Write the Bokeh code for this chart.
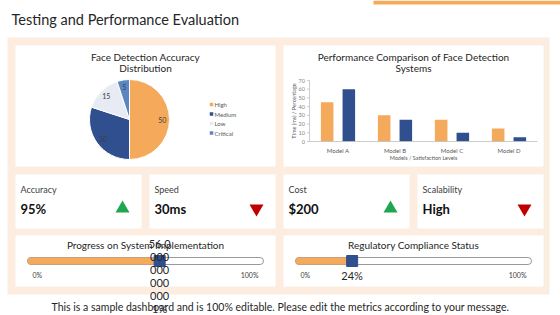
import math
import numpy as np
from bokeh.plotting import figure
from bokeh.models import Range1d, ColumnDataSource
from bokeh.transform import dodge
from bokeh.core.properties import value
from bokeh.embed import file_html
from bokeh.resources import INLINE

# ---------------- data ----------------
page_title = "Testing and Performance Evaluation"

pie_title = ["Face Detection Accuracy", "Distribution"]
pie_categories = ["High", "Medium", "Low", "Critical"]
pie_values = [50, 30, 15, 5]

bar_title = ["Performance Comparison of Face Detection", "Systems"]
models = ["Model A", "Model B", "Model C", "Model D"]
series_time = [45, 30, 25, 15]
series_pct = [60, 25, 10, 5]
y_ticks = [0, 10, 20, 30, 40, 50, 60, 70]
x_axis_label = "Models / Satisfaction Levels"
y_axis_label = "Time (ms) / Percentage"

metric_names = ["Accuracy", "Speed", "Cost", "Scalability"]
metric_values = ["95%", "30ms", "$200", "High"]
metric_trends = ["up", "down", "up", "down"]

progress_titles = ["Progress on System Implementation", "Regulatory Compliance Status"]
progress_values = [0.56, 0.24]
progress_ends = ["0%", "100%"]

footer = ("This is a sample dashboard and is 100% editable. "
          "Please edit the metrics according to your message.")

# ---------------- styles ----------------
FONT = value("Lato")
ORANGE = "#F5A95B"
NAVY = "#2F4F8F"
LIGHT = "#E6EBF4"
STEEL = "#5B87C1"
PEACH = "#FCEDE0"
GREEN = "#1FA64F"
RED = "#C00000"
INK = "#262626"
pie_colors = [ORANGE, NAVY, LIGHT, STEEL]
trend_marker = {"up": "triangle", "down": "inverted_triangle"}
trend_color = {"up": GREEN, "down": RED}

W, H = 560, 315
p = figure(width=W, height=H, x_range=Range1d(0, W), y_range=Range1d(H, 0),
           x_axis_type=None, y_axis_type=None, toolbar_location=None,
           output_backend="svg", min_border=0, outline_line_color=None,
           background_fill_color="white", border_fill_color="white")
p.grid.visible = False


def txt(x, y, s, size, color=INK, align="left", baseline="middle", style="normal", **kw):
    p.text(x=[x], y=[y], text=[s], text_font=FONT, text_font_size=size,
           text_color=color, text_align=align, text_baseline=baseline,
           text_font_style=style, **kw)


# page frame
p.quad(left=[373], right=[W], top=[0], bottom=[4], fill_color=ORANGE, line_color=None)
txt(11, 19, page_title, "14.5px")
p.quad(left=[7], right=[549], top=[37], bottom=[294], fill_color=PEACH, line_color=None)

# card boxes: two chart cards, four metric cards, two progress cards
chart_cards = [(15, 275), (283, 543)]
metric_cards = [(15, 141), (149, 275), (283, 409), (417, 543)]
progress_cards = [(15, 275), (283, 543)]
rows = [(45, 166, chart_cards), (174, 228, metric_cards), (235, 286, progress_cards)]
for top, bottom, cards in rows:
    p.quad(left=[c[0] for c in cards], right=[c[1] for c in cards],
           top=top, bottom=bottom, fill_color="white", line_color=None)

# ---------------- pie ----------------
cx, cy, R = 129, 119, 40
vals = np.array(pie_values, dtype=float)
frac = vals / vals.sum()
cum = np.cumsum(frac)
start = math.pi / 2 - 2 * math.pi * (cum - frac)
end = math.pi / 2 - 2 * math.pi * cum
p.wedge(x=cx, y=cy, radius=R, start_angle=start, end_angle=end, direction="clock",
        fill_color=pie_colors, line_color="white", line_width=1)
mid = (start + end) / 2
p.text(x=cx + 0.82 * R * np.cos(mid), y=cy - 0.82 * R * np.sin(mid),
       text=[str(v) for v in pie_values], text_font=FONT, text_font_size="7px",
       text_color="#404040", text_align="center", text_baseline="middle")
for i, line in enumerate(pie_title):
    txt(145, 56 + 11 * i, line, "10px", align="center")
leg_y = [104 + 9.5 * i for i in range(len(pie_categories))]
p.scatter(x=211, y=leg_y, marker="square", size=3.5, fill_color=pie_colors, line_color=None)
p.text(x=214, y=leg_y, text=pie_categories, text_font=FONT, text_font_size="6px",
       text_color="#595959", text_baseline="middle")

# ---------------- grouped bars ----------------
bx0, bx1, by0, by1 = 309, 537, 141, 80
bars = p.subplot(x_source=Range1d(-0.5, len(models) - 0.5), y_source=Range1d(0, 70),
                 x_target=Range1d(bx0, bx1), y_target=Range1d(by0, by1))
src = ColumnDataSource(dict(idx=list(range(len(models))), model=models,
                            time=series_time, pct=series_pct))
bars.vbar(x=dodge("idx", -0.19), top="time", width=0.22, source=src,
          fill_color=ORANGE, line_color=None)
bars.vbar(x=dodge("idx", 0.19), top="pct", width=0.22, source=src,
          fill_color=NAVY, line_color=None)
x_unit = (bx1 - bx0) / len(models)
tick = 2.5 / x_unit
bars.segment(x0=[-0.5, -0.5], y0=[0, 0], x1=[-0.5, len(models) - 0.5], y1=[y_ticks[-1], 0],
             line_color="#BFBFBF", line_width=0.8)
bars.segment(x0=-0.5 - tick, x1=-0.5, y0=y_ticks, y1=y_ticks, line_color="#BFBFBF", line_width=0.8)
bars.text(x=-0.5, y=y_ticks, text=[str(t) for t in y_ticks], x_offset=-4.5,
          text_font=FONT, text_font_size="5.5px", text_color="#7F7F7F",
          text_align="right", text_baseline="middle")
bars.text(x="idx", y=0, text="model", y_offset=5, source=src, text_font=FONT,
          text_font_size="6px", text_color="#595959", text_align="center", text_baseline="top")
txt((bx0 + bx1) / 2, 157, x_axis_label, "5.5px", color="#595959", align="center")
txt(293.5, (by0 + by1) / 2, y_axis_label, "5.5px", color="#595959", align="center",
    angle=math.pi / 2)
for i, line in enumerate(bar_title):
    txt(413, 56 + 11 * i, line, "10px", align="center")

# ---------------- metric cards ----------------
for (l, r), name, val, trend in zip(metric_cards, metric_names, metric_values, metric_trends):
    txt(l + 5, 189, name, "9px", color="#404040")
    txt(l + 5, 208, val, "13px", color="#111111", style="bold")
    p.scatter(x=[r - 19], y=[208], marker=trend_marker[trend], size=14,
              fill_color=trend_color[trend], line_color=None)


# ---------------- progress bars ----------------
def pct_label(v):
    x = v * 100
    return f"{int(x)}%" if float(x).is_integer() else f"{x!r}%"


def wrap_label(s, box_px=22, font_px=11):
    widths = {".": 0.28, "%": 0.8}
    lines, cur, w = [], "", 0.0
    for ch in s:
        cw = widths.get(ch, 0.55) * font_px
        if cur and w + cw > box_px:
            lines.append(cur)
            cur, w = "", 0.0
        cur += ch
        w += cw
    lines.append(cur)
    return "\n".join(lines)


track_y = 260.5
for (l, r), ttl, v in zip(progress_cards, progress_titles, progress_values):
    txt((l + r) / 2, 244, ttl, "10px", align="center")
    sub = p.subplot(x_source=Range1d(0, 1), y_source=Range1d(0, H),
                    x_target=Range1d(l + 12, r - 12), y_target=Range1d(0, H))
    sub.hbar(y=track_y, left=0, right=1, height=7, fill_color="white",
             line_color="#7F7F7F", line_width=0.8, border_radius=4)
    sub.hbar(y=track_y, left=0, right=v, height=7, fill_color=ORANGE,
             line_color="#C9A27A", line_width=0.5, border_radius=4)
    sub.scatter(x=v, y=track_y, marker="square", size=11, fill_color=NAVY, line_color=NAVY)
    sub.text(x=[0, 1], y=274, text=progress_ends, x_offset=[5, -5], text_font=FONT,
             text_font_size="7px", text_color="#404040", text_align=["left", "right"],
             text_baseline="middle")
    sub.text(x=[v], y=[275], text=[wrap_label(pct_label(v))], text_font=FONT,
             text_font_size="11px", text_color=INK, text_align="center",
             text_baseline="middle", text_line_height=1.0)

txt(280, 306, footer, "10.5px", align="center")

open("out.html", "w").write(file_html(p, INLINE))
